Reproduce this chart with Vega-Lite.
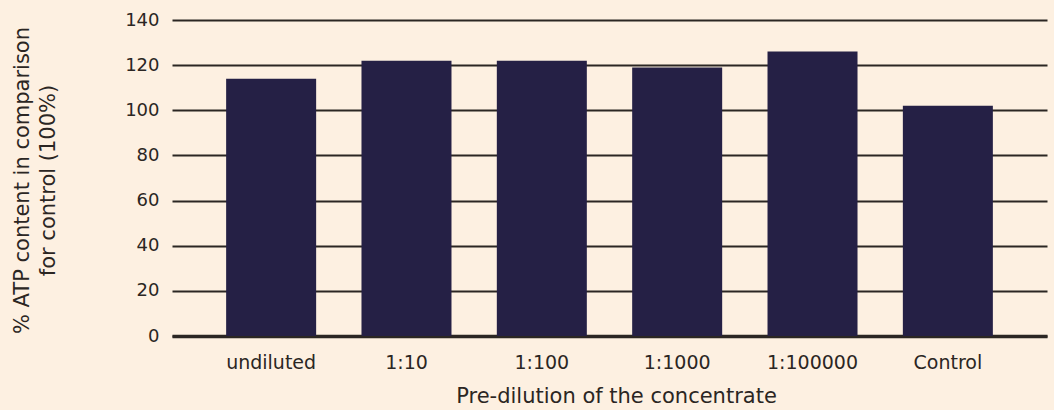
{
  "$schema": "https://vega.github.io/schema/vega-lite/v6.json",
  "autosize": {"type": "none"},
  "width": 882,
  "height": 316,
  "padding": {"left": 172, "top": 20, "right": 0, "bottom": 74},
  "background": "#fdf0e1",
  "config": {
    "view": {"stroke": null},
    "font": "DejaVu Sans"
  },
  "data": {
    "values": [
      {"dilution": "undiluted", "atp": 114},
      {"dilution": "1:10", "atp": 122},
      {"dilution": "1:100", "atp": 122},
      {"dilution": "1:1000", "atp": 119},
      {"dilution": "1:100000", "atp": 126},
      {"dilution": "Control", "atp": 102}
    ]
  },
  "mark": {"type": "bar", "color": "#252045"},
  "encoding": {
    "x": {
      "field": "dilution",
      "type": "nominal",
      "sort": null,
      "scale": {"paddingInner": 0.335, "paddingOuter": 0.4, "range": [0, 875]},
      "axis": {
        "title": "Pre-dilution of the concentrate",
        "titleFont": "DejaVu Sans",
        "titleFontSize": 21,
        "titleFontWeight": "normal",
        "titleColor": "#2b2623",
        "titlePadding": 13,
        "titleX": 444,
        "labelAngle": 0,
        "labelFontSize": 19,
        "labelColor": "#2b2623",
        "labelPadding": 17,
        "ticks": false,
        "domainColor": "#2b2623",
        "domainWidth": 3.5,
        "encode": {
          "labels": {
            "update": {
              "dx": {"signal": "datum.value === '1:10' ? -17 : datum.value === '1:100' ? 9 : datum.value === '1:1000' ? -3 : 0"}
            }
          },
          "domain": {
            "update": {
              "x2": {"value": 882}
            }
          }
        }
      }
    },
    "y": {
      "field": "atp",
      "type": "quantitative",
      "scale": {"domain": [0, 140], "nice": false},
      "axis": {
        "title": ["% ATP content in comparison", "for control (100%)"],
        "titleFont": "DejaVu Sans",
        "titleFontSize": 21,
        "titleFontWeight": "normal",
        "titleColor": "#2b2623",
        "titleLineHeight": 26,
        "titlePadding": 66,
        "titleY": 160,
        "values": [0, 20, 40, 60, 80, 100, 120, 140],
        "labelFontSize": 18,
        "labelColor": "#2b2623",
        "labelPadding": 13,
        "ticks": false,
        "domain": false,
        "grid": true,
        "gridColor": "#2b2623",
        "gridWidth": 2.2,
        "gridOpacity": 1
      }
    }
  }
}
